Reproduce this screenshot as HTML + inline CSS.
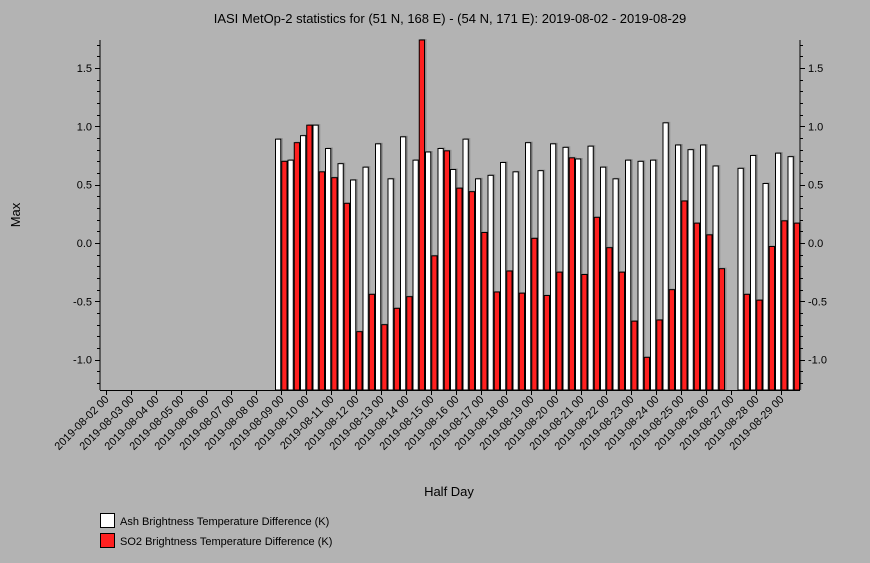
<!DOCTYPE html>
<html><head><meta charset="utf-8"><style>
body{margin:0;background:#b3b3b3;}
svg{display:block;font-family:"Liberation Sans",sans-serif;}
</style></head><body>
<svg id="c" width="870" height="563">
<rect width="870" height="563" fill="#b3b3b3"/>
<text x="450" y="23" font-size="13" text-anchor="middle">IASI MetOp-2 statistics for (51 N, 168 E) - (54 N, 171 E): 2019-08-02 - 2019-08-29</text>
<text transform="translate(20,215) rotate(-90)" font-size="13" text-anchor="middle">Max</text>
<text x="449" y="496" font-size="13" text-anchor="middle">Half Day</text>
<g id="bars"></g>
<g id="axes"></g>
<g>
<rect x="100.5" y="513.5" width="14" height="14" fill="#fff" stroke="#000"/>
<text x="120" y="525" font-size="11">Ash Brightness Temperature Difference (K)</text>
<rect x="100.5" y="533.5" width="14" height="14" fill="#ff2020" stroke="#000"/>
<text x="120" y="545" font-size="11">SO2 Brightness Temperature Difference (K)</text>
</g>
</svg>
<script>
const dayLabels=["2019-08-02 00","2019-08-03 00","2019-08-04 00","2019-08-05 00","2019-08-06 00","2019-08-07 00","2019-08-08 00","2019-08-09 00","2019-08-10 00","2019-08-11 00","2019-08-12 00","2019-08-13 00","2019-08-14 00","2019-08-15 00","2019-08-16 00","2019-08-17 00","2019-08-18 00","2019-08-19 00","2019-08-20 00","2019-08-21 00","2019-08-22 00","2019-08-23 00","2019-08-24 00","2019-08-25 00","2019-08-26 00","2019-08-27 00","2019-08-28 00","2019-08-29 00"];
const yTicks=[-1.0,-0.5,0.0,0.5,1.0,1.5];
const N=null;
const ash=[N,N,N,N,N,N,N,N,N,N,N,N,N,N,0.89,0.71,0.92,1.01,0.81,0.68,0.54,0.65,0.85,0.55,0.91,0.71,0.78,0.81,0.63,0.89,0.55,0.58,0.69,0.61,0.86,0.62,0.85,0.82,0.72,0.83,0.65,0.55,0.71,0.70,0.71,1.03,0.84,0.80,0.84,0.66,N,0.64,0.75,0.51,0.77,0.74];
const so2=[N,N,N,N,N,N,N,N,N,N,N,N,N,N,0.70,0.86,1.01,0.61,0.56,0.34,-0.76,-0.44,-0.70,-0.56,-0.46,1.74,-0.11,0.79,0.47,0.44,0.09,-0.42,-0.24,-0.43,0.04,-0.45,-0.25,0.73,-0.27,0.22,-0.04,-0.25,-0.67,-0.98,-0.66,-0.40,0.36,0.17,0.07,-0.22,N,-0.44,-0.49,-0.03,0.19,0.17];
const X0=100,X1=800,Y0=40,Y1=390,VMIN=-1.26,VMAX=1.74;
const nSlots=ash.length;
const sx=i=>X0+(X1-X0)/nSlots*(i+0.5);
const sy=v=>Y1-(v-VMIN)/(VMAX-VMIN)*(Y1-Y0);
const NS="http://www.w3.org/2000/svg";
function mk(t,a,p){const e=document.createElementNS(NS,t);for(const k in a)e.setAttribute(k,a[k]);p.appendChild(e);return e;}
const bars=document.getElementById('bars'),axes=document.getElementById('axes');
const bw=(X1-X0)/nSlots/2;
function drawBar(i,v,off,fill,name){
  if(v===null)return;
  const x=sx(i)+off, y=Math.min(sy(v),Y1), h=Y1-y;
  const s=mk('rect',{x:x+1.5,y:y-1,width:bw,height:h+1,fill:'#666',opacity:0.5},bars);
  
  
  const r=mk('rect',{x:x+0.5,y:y,width:bw-1,height:h,fill:fill,stroke:'#000','stroke-width':1},bars);
  
  
}
for(let i=0;i<nSlots;i++){drawBar(i,ash[i],-bw,'#fff','bar-ash');drawBar(i,so2[i],0,'#ff2020','bar-so2');}
// axes
let l=mk('line',{x1:X0,y1:Y0,x2:X0,y2:Y1,stroke:'#000'},axes);

l=mk('line',{x1:X1,y1:Y0,x2:X1,y2:Y1,stroke:'#000'},axes);

l=mk('line',{x1:X0,y1:Y1+0.5,x2:X1,y2:Y1+0.5,stroke:'#000'},axes);

for(let k=-12;k<=17;k++){const v=k/10,y=Math.round(sy(v))+0.5,maj=(k%5===0);
  mk('line',{x1:X0-(maj?5:3),y1:y,x2:X0,y2:y,stroke:'#000'},axes);
  mk('line',{x1:X1,y1:y,x2:X1+(maj?5:3),y2:y,stroke:'#000'},axes);}
yTicks.forEach(v=>{const y=sy(v)+4;
  const t=mk('text',{x:X0-8,y:y,'font-size':11,'text-anchor':'end'},axes);t.textContent=v.toFixed(1);
  
  const t2=mk('text',{x:X1+8,y:y,'font-size':11},axes);t2.textContent=v.toFixed(1);
  });
dayLabels.forEach((d,j)=>{const x=Math.round(sx(j*2))+0.5;
  mk('line',{x1:x,y1:Y1,x2:x,y2:Y1+5,stroke:'#000'},axes);
  const t=mk('text',{transform:`translate(${x+3},${Y1+10}) rotate(-45)`,'font-size':11,'text-anchor':'end'},axes);
  t.textContent=d;
  });
</script>
</body></html>
